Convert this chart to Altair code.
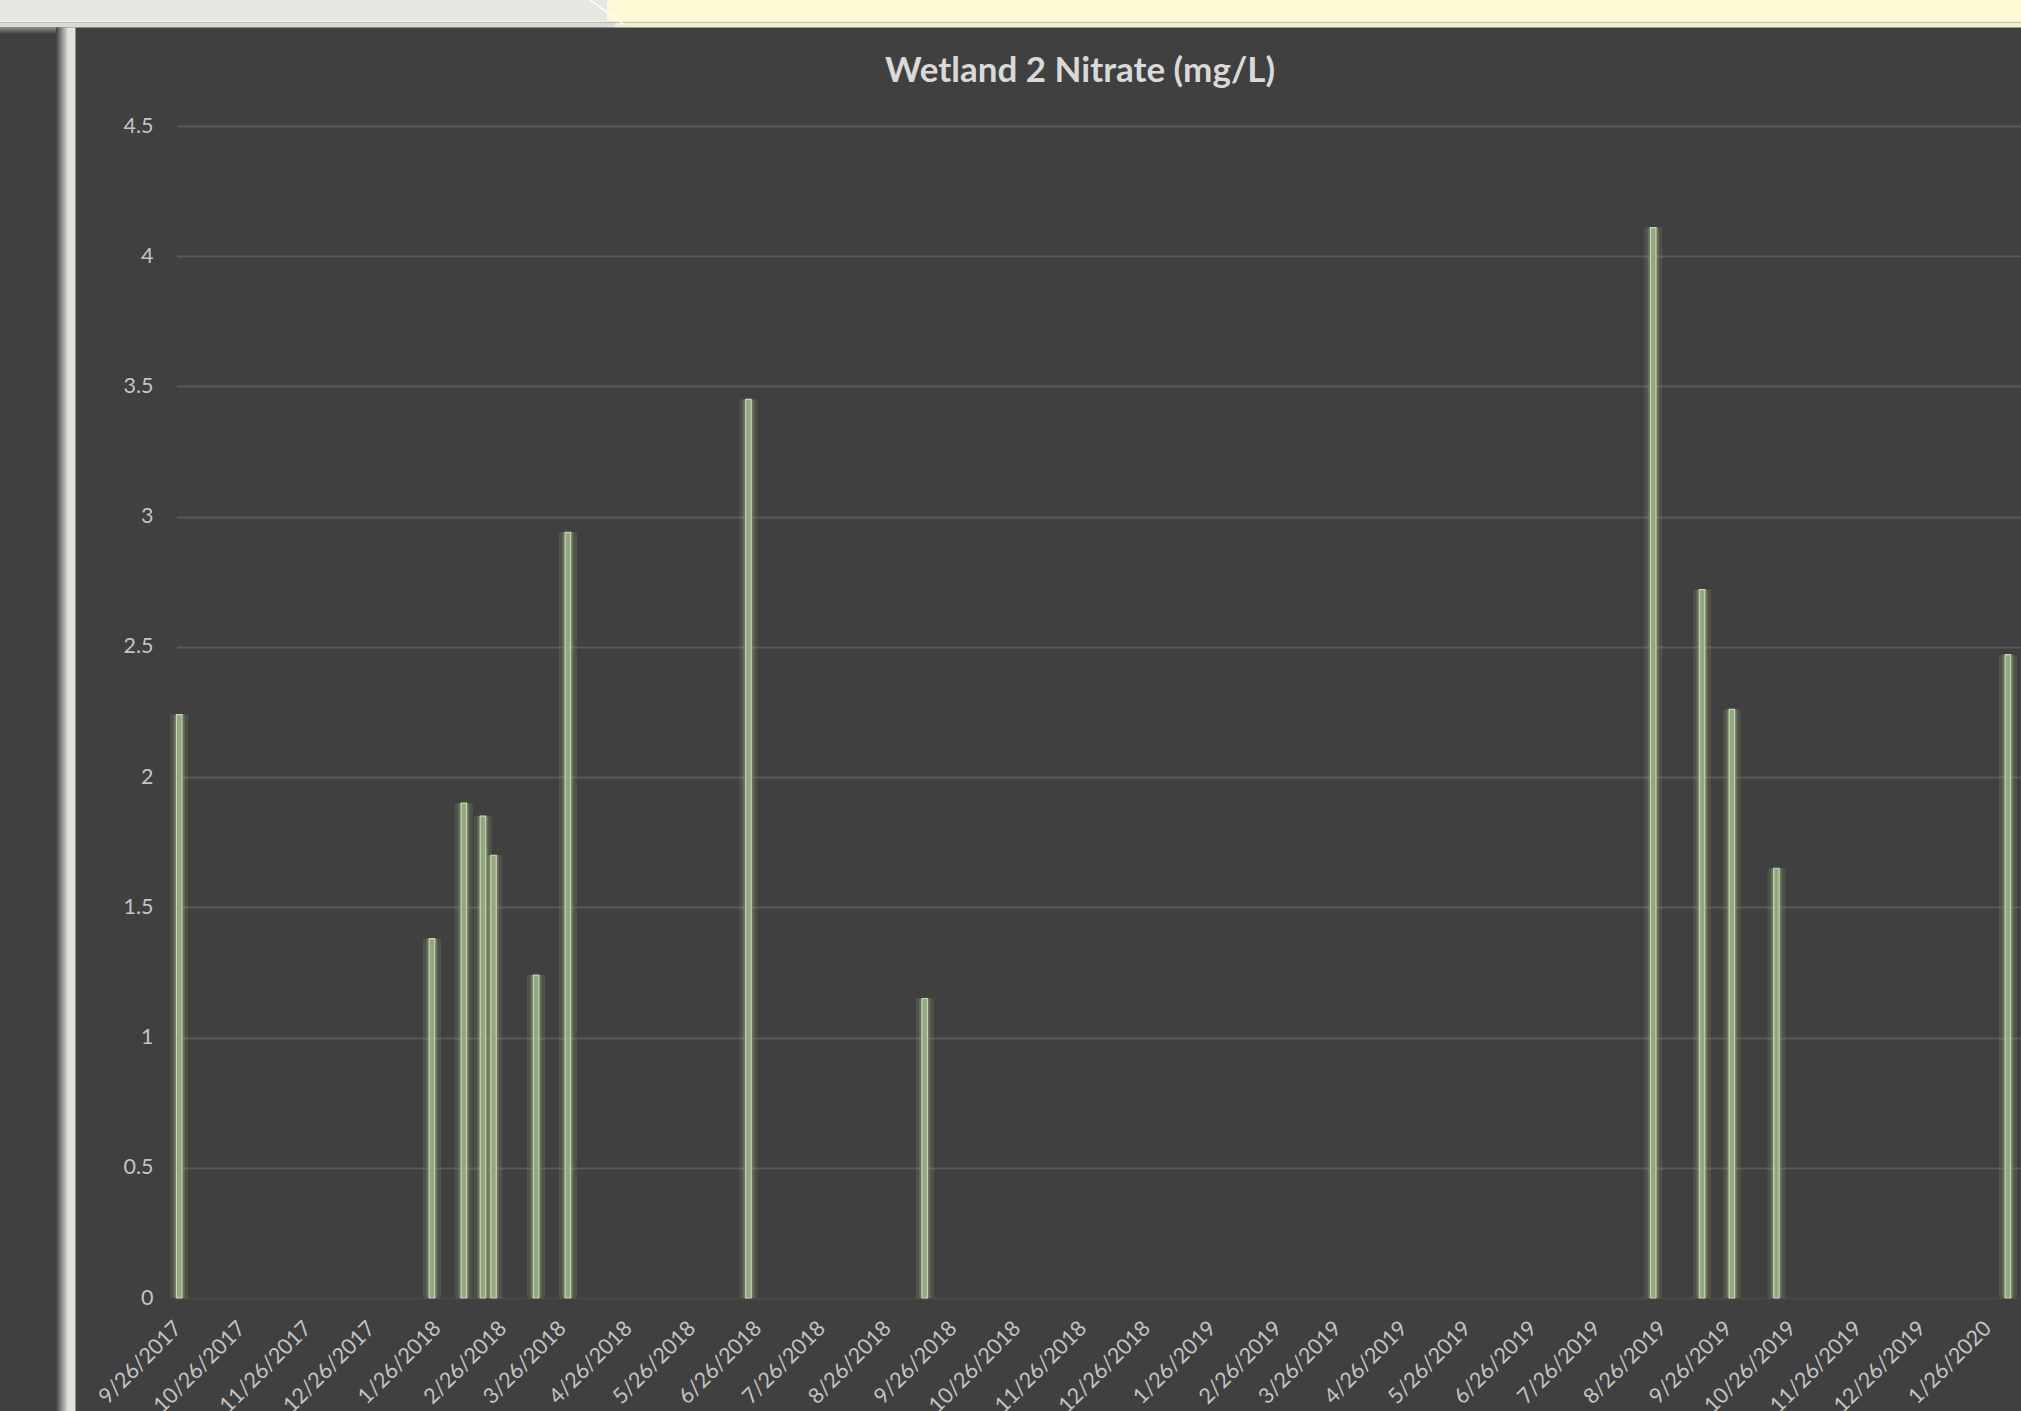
import altair as alt
import pandas as pd

# ---- data ----
sample_dates = ["2017-09-26", "2018-01-23", "2018-02-07", "2018-02-16", "2018-02-21",
                "2018-03-13", "2018-03-28", "2018-06-21", "2018-09-12", "2019-08-21",
                "2019-09-13", "2019-09-27", "2019-10-18", "2020-02-04"]
nitrate = [2.24, 1.38, 1.90, 1.85, 1.70, 1.24, 2.94, 3.45, 1.15, 4.11,
           2.72, 2.26, 1.65, 2.47]
tick_dates = ["2017-09-26", "2017-10-26", "2017-11-26", "2017-12-26", "2018-01-26",
              "2018-02-26", "2018-03-26", "2018-04-26", "2018-05-26", "2018-06-26",
              "2018-07-26", "2018-08-26", "2018-09-26", "2018-10-26", "2018-11-26",
              "2018-12-26", "2019-01-26", "2019-02-26", "2019-03-26", "2019-04-26",
              "2019-05-26", "2019-06-26", "2019-07-26", "2019-08-26", "2019-09-26",
              "2019-10-26", "2019-11-26", "2019-12-26", "2020-01-26"]
y_ticks = [0, 0.5, 1, 1.5, 2, 2.5, 3, 3.5, 4, 4.5]
title_text = "Wetland 2 Nitrate (mg/L)"

df = pd.DataFrame({"date": sample_dates, "nitrate": nitrate})


def dt(s, hours=0, minutes=0):
    y, m, d = (int(p) for p in s.split("-"))
    return alt.DateTime(year=y, month=m, date=d, hours=hours, minutes=minutes, utc=True)


# ---- layout (pixels) ----
PL, PT = 176.5, 126
W, H = 1844.5, 1172
TOTAL_W, TOTAL_H = 2021, 1411

x_scale = alt.Scale(type="utc", padding=0,
                    domain=[dt("2017-09-24", 17, 30), dt("2020-02-10", 3, 30)])
y_scale = alt.Scale(domain=[0, 4.5], nice=False, zero=True)

LABEL_SIZE = 21.5
x_axis = alt.Axis(
    values=[dt(s) for s in tick_dates], format="%-m/%-d/%Y", labelAngle=-45,
    labelAlign="right", labelBaseline="middle", labelPadding=27, labelOffset=-1,
    labelFont="Lato", labelFontSize=LABEL_SIZE, labelColor="#c4c4c4", ticks=False,
    domain=False, grid=False, title=None, labelOverlap=False, labelFlush=False,
    labelBound=False,
)
y_axis = alt.Axis(
    values=y_ticks, format="~g", labelFont="Lato", labelFontSize=LABEL_SIZE,
    labelColor="#c4c4c4", labelPadding=23.5, ticks=False, domain=False, grid=True,
    gridColor=alt.condition("datum.value === 0", alt.value("#4a4a4a"), alt.value("#595959")),
    gridWidth=1.8, title=None,
)

base = alt.Chart(df).encode(
    x=alt.X("date:T", scale=x_scale, axis=x_axis),
    y=alt.Y("nitrate:Q", scale=y_scale, axis=y_axis),
)

glow_outer = base.mark_bar(size=18, color="#8fa677", opacity=0.18)
glow_inner = base.mark_bar(size=11, color="#9ab283", opacity=0.32)
bars = base.mark_bar(size=5.5, fill="#93a881", stroke="#c6d6b1", strokeWidth=1.2)


def deco_rect(x0, x1, y0, y1, color):
    return alt.Chart(alt.Data(values=[{}])).mark_rect(color=color).encode(
        x=alt.value(x0 - PL), x2=alt.value(x1 - PL),
        y=alt.value(y0 - PT), y2=alt.value(y1 - PT),
    )


grad_h = alt.LinearGradient(
    gradient="linear", x1=0, x2=1, y1=0, y2=0,
    stops=[alt.GradientStop(offset=0, color="#404040"),
           alt.GradientStop(offset=1, color="#dfe3db")],
)
grad_v = alt.LinearGradient(
    gradient="linear", x1=0, x2=0, y1=0, y2=1,
    stops=[alt.GradientStop(offset=0, color="#8a8a8a"),
           alt.GradientStop(offset=1, color="#404040")],
)

top_grey = deco_rect(0, TOTAL_W, 0, 21, "#e4e8e0")
top_yellow = deco_rect(607, TOTAL_W, 0, 21, "#fdf9d4")
top_line = deco_rect(0, TOTAL_W, 21, 22.5, "#eef1ea")
top_low_grey = deco_rect(0, 615, 22.5, 27.5, "#d9dcd5")
top_low_yellow = deco_rect(615, TOTAL_W, 22.5, 27.5, "#f3efcb")
diag = alt.Chart(alt.Data(values=[{}])).mark_rule(color="#ffffff", strokeWidth=1.5).encode(
    x=alt.value(590 - PL), x2=alt.value(625 - PL), y=alt.value(0 - PT), y2=alt.value(25 - PT)
)
left_grad = alt.Chart(alt.Data(values=[{}])).mark_rect(color=grad_h).encode(
    x=alt.value(56 - PL), x2=alt.value(68 - PL), y=alt.value(27.5 - PT), y2=alt.value(TOTAL_H - PT)
)
left_light = deco_rect(68, 75.5, 27.5, TOTAL_H, "#dfe3db")
left_top = alt.Chart(alt.Data(values=[{}])).mark_rect(color=grad_v).encode(
    x=alt.value(0 - PL), x2=alt.value(58 - PL), y=alt.value(27.5 - PT), y2=alt.value(34 - PT)
)

title = alt.Chart(alt.Data(values=[{"t": title_text}])).mark_text(
    font="Lato", fontSize=35, fontWeight="bold", color="#d9d9d9",
    align="center", baseline="alphabetic",
).encode(text="t:N", x=alt.value(1080 - PL), y=alt.value(82 - PT))

chart = alt.layer(
    top_grey, top_yellow, top_line, top_low_grey, top_low_yellow, diag,
    left_top, left_grad, left_light,
    glow_outer, glow_inner, bars, title,
).properties(
    width=W, height=H,
    autosize=alt.AutoSizeParams(type="none"),
    padding={"left": PL, "top": PT, "right": 0, "bottom": TOTAL_H - PT - H},
    background="#404040",
).configure_view(stroke=None)

chart.save("out.html", embed_options={"renderer": "svg", "actions": False})
